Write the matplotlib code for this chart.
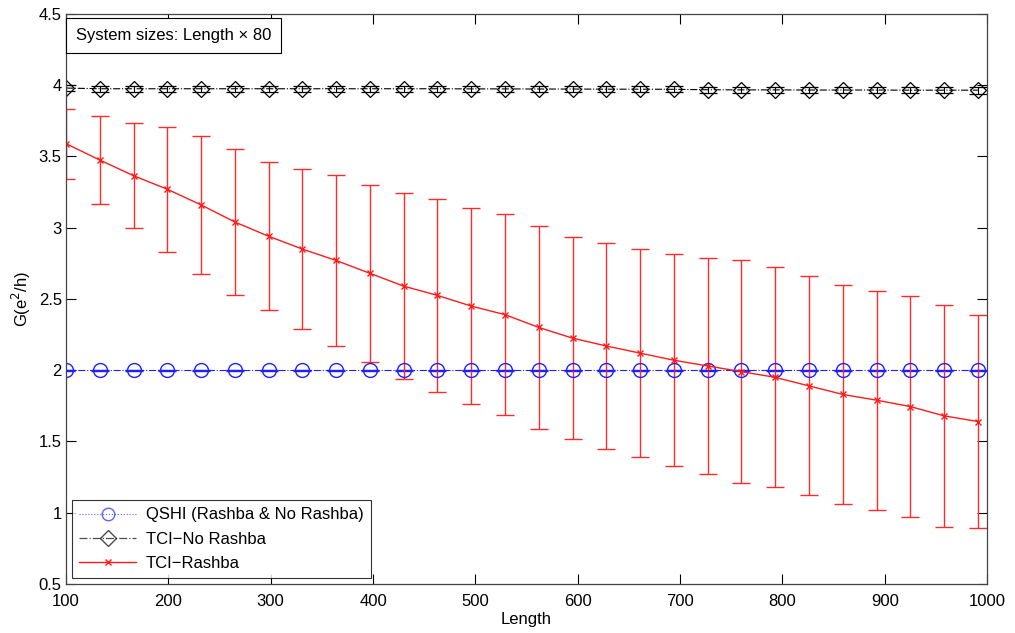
import matplotlib
matplotlib.use('Agg')
import matplotlib.pyplot as plt
from matplotlib.lines import Line2D
import numpy as np

plt.rcParams['font.family'] = ['Liberation Sans', 'DejaVu Sans']

# Lengths (system sizes Length x 80)
length = [100, 133, 166, 199, 232, 265, 298, 331, 364, 397, 430, 463, 496, 529,
          562, 595, 628, 661, 694, 727, 760, 793, 826, 859, 892, 925, 958, 991]

# QSHI: quantized at 2
qshi_mean = [2.0] * 28
qshi_err = [0.005] * 28

# TCI without Rashba: close to 4
tci_nr_mean = [3.98, 3.975, 3.975, 3.975, 3.975, 3.975, 3.975, 3.975, 3.975, 3.975,
               3.975, 3.975, 3.974, 3.974, 3.973, 3.973, 3.972, 3.972, 3.971, 3.968,
               3.967, 3.967, 3.966, 3.966, 3.966, 3.965, 3.965, 3.965]
tci_nr_err = [0.02, 0.02, 0.02, 0.02, 0.02, 0.02, 0.02, 0.02, 0.02, 0.02,
              0.02, 0.02, 0.02, 0.02, 0.02, 0.02, 0.02, 0.02, 0.02, 0.022,
              0.022, 0.022, 0.022, 0.022, 0.022, 0.022, 0.022, 0.025]

# TCI with Rashba
tci_r_mean = [3.59, 3.475, 3.365, 3.27, 3.16, 3.04, 2.94, 2.85, 2.77, 2.68,
              2.59, 2.525, 2.45, 2.39, 2.30, 2.225, 2.17, 2.12, 2.07, 2.03,
              1.99, 1.95, 1.89, 1.83, 1.79, 1.745, 1.68, 1.64]
tci_r_err = [0.245, 0.312, 0.367, 0.437, 0.483, 0.51, 0.52, 0.56, 0.60, 0.622,
             0.654, 0.677, 0.685, 0.705, 0.715, 0.709, 0.722, 0.732, 0.742, 0.76,
             0.78, 0.772, 0.768, 0.769, 0.769, 0.774, 0.779, 0.75]

blue = '#2020ff'
red = '#ff1a1a'

fig = plt.figure(figsize=(10.15, 6.33), dpi=100)
ax = fig.add_axes([0.065, 0.0774, 0.9075, 0.9006])

ax.errorbar(length, qshi_mean, yerr=qshi_err, color=blue, ls='-.', lw=0.8,
            marker='o', ms=10, mfc='none', mec=blue, mew=1.0,
            ecolor=blue, elinewidth=1.0, capsize=6.5, capthick=1.8)
ax.errorbar(length, tci_nr_mean, yerr=tci_nr_err, color='black', ls='-.', lw=0.8,
            marker='D', ms=8.5, mfc='none', mec='black', mew=0.9,
            ecolor='black', elinewidth=0.8, capsize=6.5, capthick=0.8)
ax.errorbar(length, tci_r_mean, yerr=tci_r_err, color=red, ls='-', lw=1.0,
            marker='x', ms=4, mew=1.0,
            ecolor='#ff2a2a', elinewidth=1.0, capsize=6.5, capthick=1.0)

ax.set_xlim(100, 1000)
ax.set_ylim(0.5, 4.5)
ax.set_xticks(np.arange(100, 1001, 100))
ax.set_yticks(np.arange(0.5, 4.51, 0.5))
ax.set_yticklabels(['0.5', '1', '1.5', '2', '2.5', '3', '3.5', '4', '4.5'])
ax.tick_params(direction='in', top=True, right=True, length=7, labelsize=12,
               width=0.8, pad=3)
ax.tick_params(axis='x', pad=7)
for s in ax.spines.values():
    s.set_linewidth(0.9)
    s.set_color('#444444')

ax.set_xlabel('Length', fontsize=12, labelpad=2)
ax.set_ylabel('G(e$^2$/h)', fontsize=12, labelpad=4)

ax.text(0.011, 0.962, 'System sizes: Length \u00d7 80', transform=ax.transAxes,
        fontsize=12, va='center', ha='left',
        bbox=dict(boxstyle='square,pad=0.6', fc='white', ec='black', lw=0.8))

# legend shows lines + markers only (no error bars)
handles = [
    Line2D([], [], color=blue, ls=':', lw=0.8, alpha=0.7, marker='o', ms=9,
           mfc='none', mec=blue),
    Line2D([], [], color='black', ls='-.', lw=0.9, alpha=0.7, marker='D', ms=8,
           mfc='none', mec='black'),
    Line2D([], [], color=red, ls='-', lw=1.0, marker='x', ms=4),
]
labels = ['QSHI (Rashba & No Rashba)', 'TCI\u2212No Rashba', 'TCI\u2212Rashba']
leg = ax.legend(handles, labels, loc='lower left', fontsize=12, frameon=True,
                fancybox=False, edgecolor='black', borderaxespad=0.35,
                handlelength=3.4, handletextpad=0.6, labelspacing=0.55,
                borderpad=0.45)
leg.get_frame().set_linewidth(0.8)

fig.savefig('out.png', dpi=100)
